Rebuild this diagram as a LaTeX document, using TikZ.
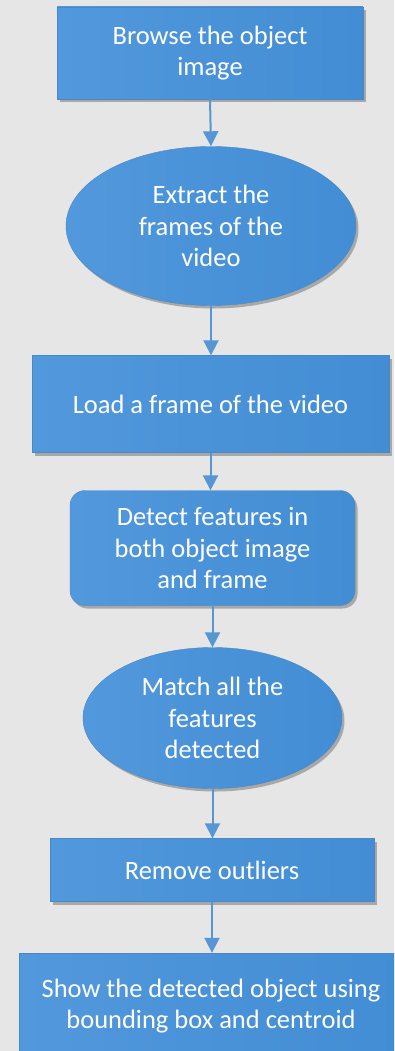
\documentclass[tikz,border=0pt]{standalone}
\usepackage{fontspec}
\setmainfont{Carlito}
\usetikzlibrary{shapes.geometric,shadows,arrows.meta}
\definecolor{bg}{RGB}{230,230,230}
\definecolor{boxL}{RGB}{82,152,220}
\definecolor{boxR}{RGB}{66,141,212}
\definecolor{edge}{RGB}{72,136,196}
\definecolor{arr}{RGB}{86,150,212}
\tikzset{
  base/.style={left color=boxL, right color=boxR, draw=edge, line width=0.4pt,
    text=white, align=center, inner sep=0pt,
    font=\fontsize{26.5}{31.5}\selectfont,
    drop shadow={shadow xshift=2.5pt, shadow yshift=-3pt, opacity=0.4, fill=black!70}},
  rectbox/.style={base, rectangle},
  roundbox/.style={base, rectangle, rounded corners=15pt},
  ellbox/.style={base, ellipse},
  flow/.style={draw=arr, line width=2pt, -{Triangle[width=15pt,length=15pt]}}
}
\begin{document}
\begin{tikzpicture}[x=1pt,y=1pt]
\fill[bg] (0,0) rectangle (394,-1051);
\useasboundingbox (0,0) rectangle (394,-1051);
\clip (0,0) rectangle (394,-1051);
\node[rectbox, minimum width=306pt, minimum height=92pt] (b1) at (210,-53) {Browse the object\\image};
\node[ellbox, minimum width=290pt, minimum height=159pt] (e2) at (211,-226) {Extract the\\frames of the\\video};
\node[rectbox, minimum width=357pt, minimum height=97pt] (b3) at (210.5,-404) {Load a frame of the video};
\node[roundbox, minimum width=285pt, minimum height=115pt] (b4) at (212.5,-548) {Detect features in\\both object image\\and frame};
\node[ellbox, minimum width=259pt, minimum height=141pt] (e5) at (212.5,-718) {Match all the\\features\\detected};
\node[rectbox, minimum width=324pt, minimum height=63pt] (b6) at (212,-870) {Remove outliers};
\node[rectbox, minimum width=384pt, minimum height=106pt] (b7) at (211,-1006) {Show the detected object using\\bounding box and centroid};
\draw[flow] (b1.south) -- (e2.north);
\draw[flow] (e2.south) -- (b3.north -| e2.south);
\draw[flow] (b3.south) -- (b4.north -| b3.south);
\draw[flow] (b4.south) -- (e5.north);
\draw[flow] (e5.south) -- (b6.north -| e5.south);
\draw[flow] (b6.south) -- (b7.north -| b6.south);
\end{tikzpicture}
\end{document}
